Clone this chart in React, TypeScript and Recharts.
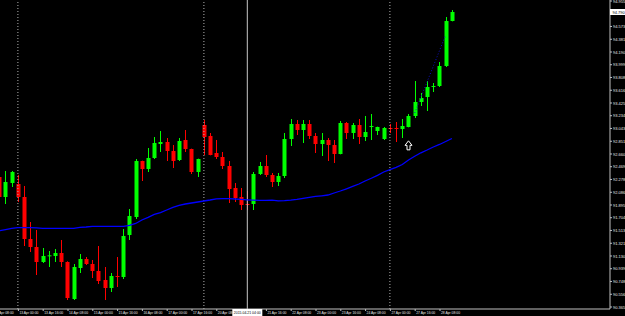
import React from 'react';
import { ComposedChart, Bar, Line, XAxis, YAxis, ReferenceLine, ReferenceDot } from 'recharts';

// ---- time axis (H4 bars) ----
const DAYS = ['10 Apr', '13 Apr', '14 Apr', '15 Apr', '16 Apr', '17 Apr', '20 Apr', '21 Apr', '22 Apr', '23 Apr', '24 Apr', '27 Apr', '28 Apr'];
const HOURS = ['00:00', '04:00', '08:00', '12:00', '16:00', '20:00'];
const FIRST_BAR = -4; // bar index of 10 Apr 08:00 (13 Apr 00:00 is bar 0)
const FIRST_HOUR_SLOT = 2;
const LAST_SLOT = 95; // empty chart-shift area to the right
const FIRST_CANDLE = -3;
const WEEK_SEPARATORS = [0, 30, 60];
const VLINE_BAR = 37;
const VLINE_LABEL = '2015.04.21 04:00';

// ---- OHLC, bars -3 .. 70 ----
const OPEN = [92.315, 92.015, 92.225, 92.21, 92.015, 91.385, 91.265, 91.04, 91.13, 91.13, 91.175, 91.04, 90.485, 90.95, 91.085, 91.01, 90.905, 90.77, 90.65, 90.83, 90.815, 91.445, 91.715, 92.555, 92.435, 92.6, 92.81, 92.84, 92.705, 92.57, 92.87, 92.735, 92.39, 93.095, 92.93, 92.675, 92.615, 92.48, 92.15, 92.015, 91.91, 91.91, 92.36, 92.48, 92.345, 92.24, 92.33, 92.885, 93.11, 93.02, 93.11, 92.93, 92.81, 92.87, 92.795, 92.66, 93.125, 92.975, 93.095, 92.915, 93.065, 93.005, 92.885, 93.05, 93.05, 93.035, 93.065, 93.23, 93.44, 93.515, 93.665, 93.68, 93.98, 94.655];
const HIGH = [92.39, 92.405, 92.405, 92.345, 92.18, 91.64, 91.52, 91.25, 91.205, 91.235, 91.37, 91.05, 91.01, 91.16, 91.115, 91.07, 91.28, 90.965, 90.875, 91.115, 91.535, 91.835, 92.585, 92.56, 92.75, 92.915, 93.005, 92.9, 92.795, 92.9, 93.02, 92.74, 92.59, 93.17, 92.975, 92.87, 92.69, 92.555, 92.225, 92.15, 92.105, 92.39, 92.54, 92.645, 92.375, 92.375, 92.975, 93.185, 93.17, 93.17, 93.17, 92.975, 92.975, 92.9, 92.87, 93.155, 93.14, 93.125, 93.185, 93.23, 93.26, 93.07, 93.065, 93.11, 93.14, 93.185, 93.26, 93.755, 93.575, 93.755, 93.725, 94.04, 94.715, 94.82];
const LOW = [91.985, 91.91, 92.165, 91.94, 91.28, 91.19, 90.845, 91.025, 90.965, 91.04, 90.965, 90.47, 90.47, 90.875, 90.995, 90.8, 90.71, 90.47, 90.59, 90.665, 90.785, 91.37, 91.685, 92.255, 92.39, 92.585, 92.69, 92.555, 92.45, 92.555, 92.69, 92.36, 92.315, 92.645, 92.64, 92.585, 92.435, 91.925, 91.94, 91.82, 91.82, 91.82, 92.345, 92.315, 92.165, 92.18, 92.3, 92.78, 92.945, 92.825, 92.885, 92.675, 92.63, 92.555, 92.525, 92.655, 92.885, 92.885, 92.81, 92.855, 92.87, 92.945, 92.87, 92.975, 92.84, 92.9, 93.06, 93.2, 93.38, 93.305, 93.59, 93.665, 93.965, 94.65];
const CLOSE = [92.015, 92.24, 92.39, 92.015, 91.385, 91.265, 91.04, 91.13, 91.14, 91.175, 91.04, 90.5, 90.965, 91.085, 91.01, 90.905, 90.755, 90.65, 90.83, 90.815, 91.43, 91.73, 92.555, 92.435, 92.6, 92.825, 92.84, 92.705, 92.555, 92.855, 92.735, 92.39, 92.585, 92.915, 92.645, 92.615, 92.48, 92.135, 92.0, 91.895, 91.895, 92.36, 92.48, 92.345, 92.24, 92.33, 92.885, 93.11, 93.02, 93.11, 92.93, 92.81, 92.87, 92.795, 92.66, 93.125, 92.975, 93.095, 92.915, 92.99, 93.08, 93.065, 93.05, 93.035, 93.04, 93.08, 93.23, 93.44, 93.5, 93.665, 93.68, 93.98, 94.655, 94.79];
const MA = [91.508, 91.527, 91.545, 91.555, 91.555, 91.555, 91.553, 91.545, 91.545, 91.545, 91.545, 91.545, 91.545, 91.558, 91.565, 91.575, 91.575, 91.575, 91.575, 91.575, 91.575, 91.588, 91.618, 91.67, 91.71, 91.753, 91.78, 91.82, 91.858, 91.889, 91.91, 91.925, 91.94, 91.955, 91.97, 91.988, 91.99, 91.99, 91.985, 91.98, 91.973, 91.967, 91.963, 91.963, 91.967, 91.958, 91.96, 91.967, 91.978, 91.993, 92.008, 92.023, 92.033, 92.045, 92.075, 92.105, 92.138, 92.173, 92.21, 92.255, 92.296, 92.34, 92.39, 92.425, 92.459, 92.503, 92.57, 92.626, 92.678, 92.72, 92.765, 92.803, 92.848, 92.893];

// ---- price axis ----
const Y_MIN = 90.335;
const Y_MAX = 94.97;
const PRICE_TICKS = [94.955, 94.573, 94.381, 94.19, 93.999, 93.808, 93.616, 93.425, 93.234, 93.043, 92.851, 92.66, 92.469, 92.278, 92.086, 91.895, 91.704, 91.513, 91.321, 91.13, 90.939, 90.748, 90.556, 90.365];
const BID = 94.79;

// ---- annotations ----
const ARROW = { bar: 63, price: 92.79 };
const TRENDLINE = [{ bar: 64, price: 93.275 }, { bar: 69, price: 94.445 }];

// build time labels
const TIMES: string[] = [];
DAYS.forEach((d, di) => {
  HOURS.forEach((h, hi) => {
    if (di === 0 && hi < FIRST_HOUR_SLOT) return;
    TIMES.push(`${d} ${h}`);
  });
});

const data: any[] = [];
for (let i = FIRST_BAR; i <= LAST_SLOT; i++) {
  const k = i - FIRST_CANDLE;
  const has = k >= 0 && k < OPEN.length;
  data.push({
    i,
    range: has ? [LOW[k], HIGH[k]] : null,
    o: has ? OPEN[k] : null,
    c: has ? CLOSE[k] : null,
    ma: has ? MA[k] : null,
  });
}

const FONT = 'Liberation Sans, Arial, sans-serif';

const Candle = (props: any) => {
  const { payload } = props;
  let { x, y, width, height } = props;
  if (!payload || payload.range == null) return <g />;
  if (height < 0) { y += height; height = -height; }
  const [lo, hi] = payload.range;
  const k = height / (hi - lo);
  const cx = Math.round(x + width / 2);
  const yO = y + (hi - payload.o) * k;
  const yC = y + (hi - payload.c) * k;
  const top = Math.min(yO, yC);
  const bh = Math.max(1, Math.abs(yO - yC));
  const col = payload.c >= payload.o ? '#00ff00' : '#ff0000';
  return (
    <g>
      <line x1={cx + 0.5} x2={cx + 0.5} y1={y} y2={y + height} stroke={col} strokeWidth={1} />
      <rect x={cx - 1.5} y={top} width={4} height={bh} fill={col} />
    </g>
  );
};

const XTick = (props: any) => {
  const { x, y, payload } = props;
  const i = payload.value;
  if (i === VLINE_BAR) {
    return (
      <g>
        <rect x={x - 15} y={y} width={30} height={7} fill="#ffffff" />
        <text x={x} y={y + 5} fontSize={3.6} fill="#000" textAnchor="middle" fontFamily={FONT}
          textLength={27} lengthAdjust="spacingAndGlyphs">{VLINE_LABEL}</text>
      </g>
    );
  }
  if ((i - FIRST_BAR) % 4 !== 0) return <g />;
  const label = TIMES[i - FIRST_BAR];
  if (!label) return <g />;
  return (
    <g>
      <line x1={x + 0.5} x2={x + 0.5} y1={y} y2={y + 2} stroke="#c0c0c0" strokeWidth={1} />
      <text x={x + 1.5} y={y + 5} fontSize={3.6} fill="#e8e8e8" fontFamily={FONT}
        textLength={19} lengthAdjust="spacingAndGlyphs">{label}</text>
    </g>
  );
};

const YTick = (props: any) => {
  const { x, y, payload } = props;
  const v = payload.value;
  if (v === BID) {
    return (
      <g>
        <rect x={x} y={y - 3} width={16} height={6} fill="#ffffff" />
        <text x={x + 2.5} y={y + 1.5} fontSize={4} fill="#000" fontFamily={FONT}>{v.toFixed(3)}</text>
      </g>
    );
  }
  return (
    <g>
      <line x1={x} x2={x + 2} y1={y} y2={y} stroke="#c0c0c0" strokeWidth={1} />
      <text x={x + 3} y={y + 1.5} fontSize={4} fill="#e8e8e8" fontFamily={FONT}>{v.toFixed(3)}</text>
    </g>
  );
};

const Arrow = (props: any) => {
  const { cx, cy } = props;
  const d = `M${cx},${cy - 4.5} L${cx + 3.5},${cy} L${cx + 1.5},${cy} L${cx + 1.5},${cy + 4.5} L${cx - 1.5},${cy + 4.5} L${cx - 1.5},${cy} L${cx - 3.5},${cy} Z`;
  return <path d={d} fill="#000" stroke="#fff" strokeWidth={1} />;
};

const NoDot = () => <g />;

export default function App() {
  return (
    <div style={{ position: 'absolute', left: 0, top: 0, width: 625, height: 316, background: '#000', overflow: 'hidden' }}>
      <ComposedChart
        width={625}
        height={316}
        data={data}
        margin={{ top: 0, right: 0, bottom: 0, left: -10 }}
        barCategoryGap={0}
        barGap={0}
      >
        <XAxis
          dataKey="i"
          type="category"
          interval={0}
          tickLine={false}
          tickSize={0}
          tickMargin={0}
          height={7}
          axisLine={{ stroke: '#c0c0c0' }}
          tick={<XTick />}
        />
        <YAxis
          orientation="right"
          type="number"
          domain={[Y_MIN, Y_MAX]}
          allowDataOverflow
          ticks={[...PRICE_TICKS, BID]}
          interval={0}
          width={15}
          tickLine={false}
          tickSize={0}
          tickMargin={0}
          axisLine={{ stroke: '#c0c0c0' }}
          tick={<YTick />}
        />
        {WEEK_SEPARATORS.map((b) => (
          <ReferenceLine key={b} x={b} stroke="#b0b0b0" strokeDasharray="1 2" strokeWidth={1} />
        ))}
        <ReferenceLine x={VLINE_BAR} stroke="#c8c8c8" strokeWidth={1} />
        <Bar dataKey="range" shape={<Candle />} isAnimationActive={false} />
        <Line
          dataKey="ma"
          stroke="#0000ff"
          strokeWidth={1.3}
          dot={<NoDot />}
          activeDot={false}
          legendType="none"
          isAnimationActive={false}
        />
        <ReferenceLine
          segment={[{ x: TRENDLINE[0].bar, y: TRENDLINE[0].price }, { x: TRENDLINE[1].bar, y: TRENDLINE[1].price }]}
          stroke="#1010c0"
          strokeDasharray="1 2"
          strokeWidth={1}
        />
        <ReferenceDot x={ARROW.bar} y={ARROW.price} r={5} shape={<Arrow />} />
      </ComposedChart>
    </div>
  );
}
